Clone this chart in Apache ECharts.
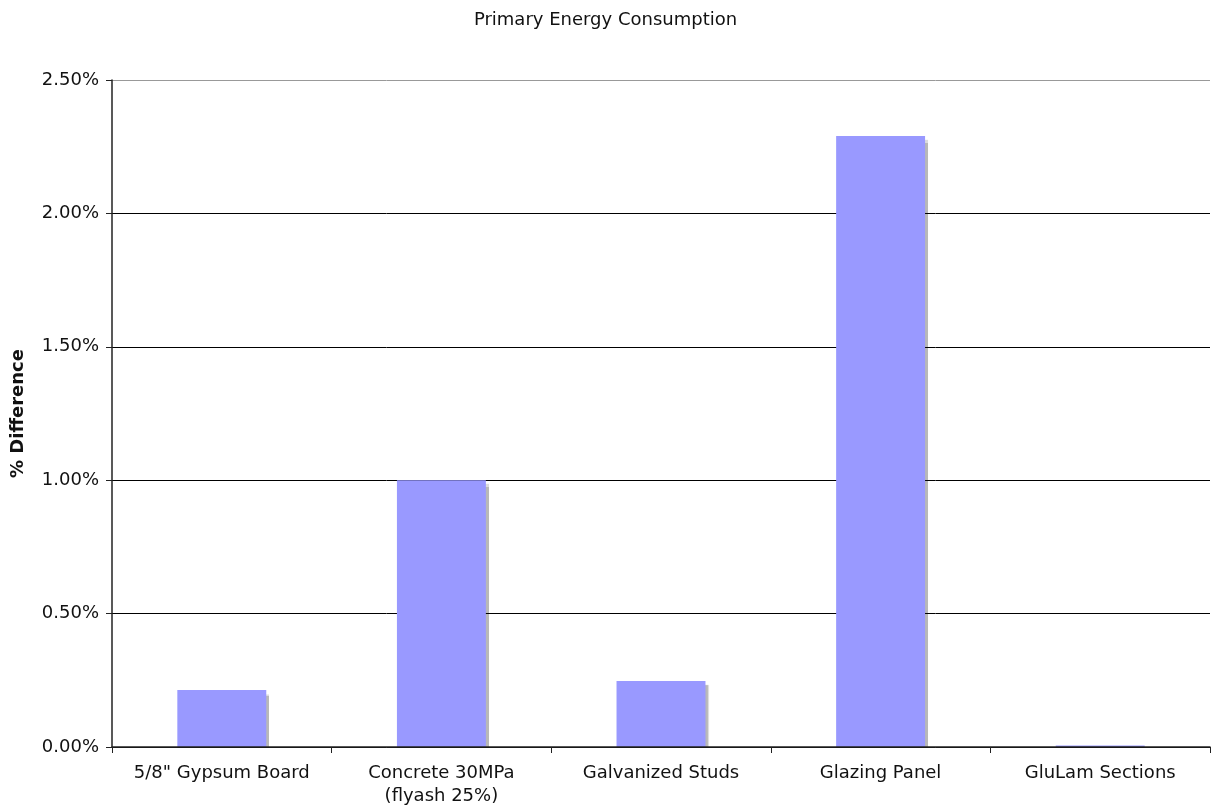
<!DOCTYPE html>
<html>
<head>
<meta charset="utf-8">
<script src="https://cdn.jsdelivr.net/npm/echarts@6/dist/echarts.min.js"></script>
<style>
  html, body { margin: 0; padding: 0; background: #fff; }
  #chart { width: 1211px; height: 808px; }
</style>
</head>
<body>
<div id="chart"></div>
<script>
// Materials compared
const categories = ['5/8" Gypsum Board', 'Concrete 30MPa\n(flyash 25%)', 'Galvanized Studs', 'Glazing Panel', 'GluLam Sections'];
// Difference in primary energy consumption, percent
const differences = [0.214, 1.00, 0.247, 2.29, 0.006];
// Value-axis range, percent
const yMin = 0;
const yMax = 2.5;
const yStep = 0.5;

const font = 'DejaVu Sans, Verdana, sans-serif';
const chart = echarts.init(document.getElementById('chart'), null, { renderer: 'canvas' });

chart.setOption({
  animation: false,
  backgroundColor: '#ffffff',
  title: {
    text: 'Primary Energy Consumption',
    left: 'center',
    top: 6,
    textStyle: { fontFamily: font, fontSize: 18, fontWeight: 'normal', color: '#111' }
  },
  grid: { left: 112, right: 1, top: 80, bottom: 61, containLabel: false },
  // white strip under the baseline so bar shadows stop at the axis
  graphic: [{
    type: 'rect',
    z: 5,
    shape: { x: 113, y: 748, width: 1100, height: 6 },
    style: { fill: '#ffffff' }
  }],
  xAxis: {
    type: 'category',
    data: categories,
    boundaryGap: true,
    z: 6,
    axisLine: { lineStyle: { color: '#222', width: 1.5 } },
    axisTick: { show: true, alignWithLabel: false, length: 6, lineStyle: { color: '#222' } },
    axisLabel: { fontFamily: font, fontSize: 18, color: '#111', margin: 15, lineHeight: 23, interval: 0 }
  },
  yAxis: {
    type: 'value',
    min: yMin,
    max: yMax,
    interval: yStep,
    name: '% Difference',
    nameLocation: 'middle',
    nameGap: 85,
    nameTextStyle: { fontFamily: font, fontSize: 18, fontWeight: 'bold', color: '#111' },
    axisLine: { show: true, lineStyle: { color: '#222', width: 1.5 } },
    axisTick: { show: true, length: 6, lineStyle: { color: '#222' } },
    axisLabel: {
      fontFamily: font, fontSize: 18, color: '#111', margin: 13,
      formatter: v => v.toFixed(2) + '%'
    },
    splitLine: {
      show: true,
      lineStyle: { color: ['#000', '#000', '#000', '#000', '#000', '#999'], width: 1 }
    }
  },
  series: [{
    type: 'bar',
    data: differences,
    barWidth: '40.5%',
    itemStyle: {
      color: '#9999ff',
      shadowColor: 'rgba(0,0,0,0.28)',
      shadowOffsetX: 3,
      shadowOffsetY: 4,
      shadowBlur: 1
    }
  }]
});
</script>
</body>
</html>
